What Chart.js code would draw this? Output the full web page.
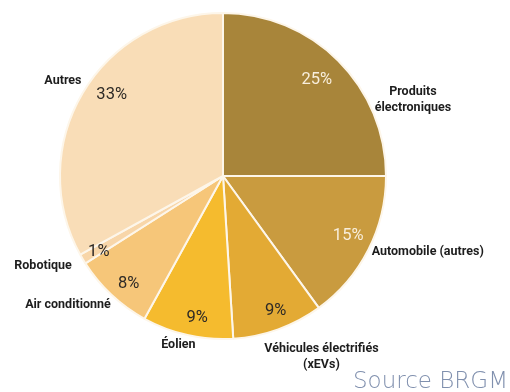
<!DOCTYPE html>
<html lang="fr">
<head>
<meta charset="utf-8">
<script src="https://cdn.jsdelivr.net/npm/chart.js@4"></script>
<style>
  html, body { margin: 0; padding: 0; background: #fff; }
  #wrap { position: relative; width: 510px; height: 392px; }
</style>
</head>
<body>
<div id="wrap"><canvas id="chart" width="510" height="392"></canvas></div>
<script>
// Données
const categories = [
  "Produits électroniques",
  "Automobile (autres)",
  "Véhicules électrifiés (xEVs)",
  "Éolien",
  "Air conditionné",
  "Robotique",
  "Autres"
];
const shares = [25, 15, 9, 9, 8, 1, 33];
const sliceColors = ["#a8853a", "#c99b3f", "#e3aa34", "#f5bb2e", "#f6c679", "#f8d6a9", "#f9ddb7"];

// Libellés extérieurs (lignes) et placement relatif au rayon
const labelLines = [
  ["Produits", "électroniques"],
  ["Automobile (autres)"],
  ["Véhicules électrifiés", "(xEVs)"],
  ["Éolien"],
  ["Air conditionné"],
  ["Robotique"],
  ["Autres"]
];
const labelPos = [[1.165, -0.466], [1.256, 0.463], [0.604, 1.107], [-0.274, 1.037], [-0.951, 0.793], [-1.104, 0.549], [-0.982, -0.585]];
const pctPos = [[0.576, -0.588], [0.768, 0.366], [0.323, 0.829], [-0.159, 0.872], [-0.579, 0.659], [-0.762, 0.463], [-0.683, -0.5]];
const pctLight = [true, true, false, false, false, false, false];

const textPlugin = {
  id: "textLabels",
  afterDatasetsDraw(chart) {
    const ctx = chart.ctx;
    const meta = chart.getDatasetMeta(0);
    const arc0 = meta.data[0];
    const cx = arc0.x, cy = arc0.y, r = arc0.outerRadius;
    ctx.save();
    ctx.textAlign = "center";
    ctx.textBaseline = "middle";
    // pourcentages
    ctx.font = "16.5px Roboto";
    shares.forEach((v, i) => {
      ctx.fillStyle = pctLight[i] ? "#f8eedc" : "#2e2a26";
      ctx.fillText(v + "%", cx + pctPos[i][0] * r, cy + pctPos[i][1] * r);
    });
    // catégories
    ctx.font = "bold 12.5px Roboto";
    ctx.fillStyle = "#1d1d1d";
    labelLines.forEach((lines, i) => {
      const x = cx + labelPos[i][0] * r;
      const y0 = cy + labelPos[i][1] * r - (lines.length - 1) * 8;
      lines.forEach((t, j) => ctx.fillText(t, x, y0 + j * 16));
    });
    // source
    ctx.font = "200 23px 'DejaVu Sans'";
    ctx.fillStyle = "#8090ae";
    ctx.textAlign = "right";
    ctx.textBaseline = "alphabetic";
    ctx.fillText("Source BRGM", chart.width - 2, chart.height - 4);
    ctx.restore();
  }
};

new Chart(document.getElementById("chart"), {
  type: "pie",
  data: {
    labels: categories,
    datasets: [{
      data: shares,
      backgroundColor: sliceColors,
      borderColor: "#fdf6ea",
      borderWidth: 2
    }]
  },
  options: {
    responsive: false,
    animation: false,
    layout: { padding: { left: 59, right: 123, top: 12, bottom: 52 } },
    plugins: {
      legend: { display: false },
      tooltip: { enabled: false }
    }
  },
  plugins: [textPlugin]
});
</script>
</body>
</html>
